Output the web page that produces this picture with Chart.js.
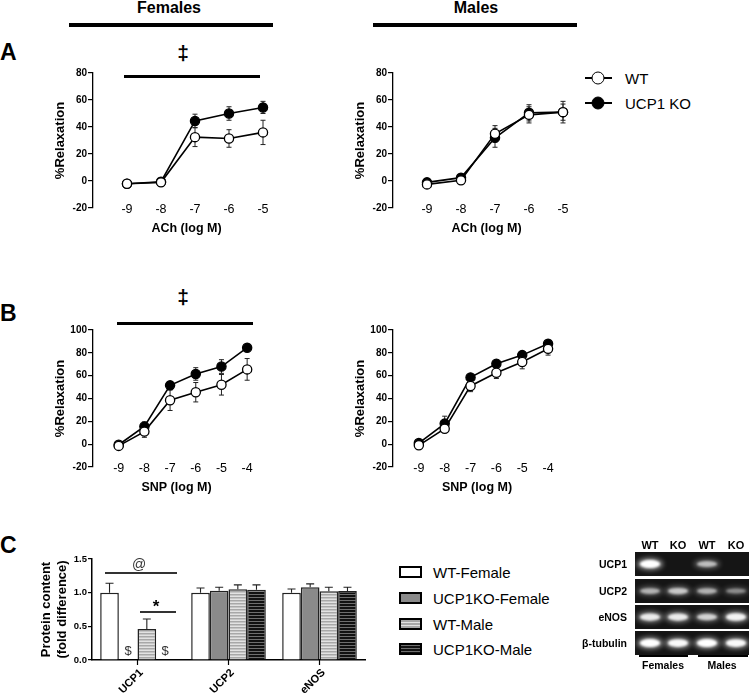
<!DOCTYPE html>
<html>
<head>
<meta charset="utf-8">
<script src="https://cdn.jsdelivr.net/npm/chart.js@4.4.1/dist/chart.umd.min.js"></script>
<style>
  body { margin: 0; background: #fff; font-family: "Liberation Sans", Arial, sans-serif; }
  #page { position: relative; width: 750px; height: 700px; overflow: hidden; }
  .box { position: absolute; }
  .t { position: absolute; white-space: nowrap; transform: translate(-50%, -50%); color: #000; line-height: 1; }
  .l { position: absolute; white-space: nowrap; transform: translateY(-50%); color: #000; line-height: 1; }
  .r { position: absolute; white-space: nowrap; transform: translate(-100%, -50%); color: #000; line-height: 1; }
  .rule { position: absolute; background: #000; }
  .b { font-weight: bold; }
  .mk { position: absolute; width: 11px; height: 11px; border: 1.5px solid #000; border-radius: 50%; transform: translate(-50%, -50%); }
  .sw { position: absolute; width: 19px; height: 8px; border: 2px solid #000; transform: translateY(-50%); }
</style>
</head>
<body>
<div id="page">
  <!-- headers -->
  <div class="t b" style="left:169px;top:8px;font-size:16px">Females</div>
  <div class="rule" style="left:69px;top:23px;width:204px;height:4px"></div>
  <div class="t b" style="left:476px;top:8px;font-size:16px">Males</div>
  <div class="rule" style="left:373px;top:23px;width:204px;height:4px"></div>

  <div class="l b" style="left:0px;top:52px;font-size:23px">A</div>
  <div class="t b" style="left:183px;top:52px;font-size:21px">‡</div>
  <div class="rule" style="left:124px;top:75px;width:136px;height:3px"></div>

  <div class="l b" style="left:0px;top:313px;font-size:23px">B</div>
  <div class="t b" style="left:183px;top:296px;font-size:21px">‡</div>
  <div class="rule" style="left:117px;top:322px;width:136px;height:3px"></div>

  <div class="l b" style="left:0px;top:545px;font-size:23px">C</div>

  <!-- line legend -->
  <div class="rule" style="left:585px;top:77px;width:27px;height:1.6px"></div>
  <div class="mk" style="left:598px;top:78px;background:#fff"></div>
  <div class="l" style="left:625px;top:78px;font-size:15px">WT</div>
  <div class="rule" style="left:585px;top:102px;width:27px;height:1.6px"></div>
  <div class="mk" style="left:598px;top:103px;background:#000"></div>
  <div class="l" style="left:625px;top:103px;font-size:15px">UCP1 KO</div>

  <div class="box" style="left:49px;top:63px"><canvas id="achF" width="237" height="176"></canvas></div>
  <div class="box" style="left:349px;top:63px"><canvas id="achM" width="237" height="176"></canvas></div>
  <div class="box" style="left:49px;top:320px"><canvas id="snpF" width="217" height="178"></canvas></div>
  <div class="box" style="left:349px;top:320px"><canvas id="snpM" width="218" height="178"></canvas></div>
  <div class="box" style="left:35px;top:549px"><canvas id="prot" width="335" height="151"></canvas></div>

  <!-- panel C annotations -->
  <div class="t" style="left:139px;top:564px;font-size:14px;color:#333">@</div>
  <div class="rule" style="left:105px;top:572px;width:72px;height:1.5px;background:#333"></div>
  <div class="t b" style="left:156px;top:606px;font-size:17px">*</div>
  <div class="rule" style="left:140px;top:611px;width:36px;height:1.5px;background:#333"></div>
  <div class="t" style="left:128px;top:650px;font-size:13px;color:#333">$</div>
  <div class="t" style="left:165px;top:650px;font-size:13px;color:#333">$</div>

  <!-- panel C legend -->
  <div id="legC"></div>

  <!-- blot -->
  <div class="box" style="left:630px;top:548px"><canvas id="blot" width="120" height="108"></canvas></div>
  <div id="blotText"></div>
</div>

<script>
// ACh / SNP dose-response (%Relaxation)
const achDoses = [-9, -8, -7, -6, -5];
const snpDoses = [-9, -8, -7, -6, -5, -4];

const achFemaleWT = [-2, -1, 32.5, 31.5, 36];
const achFemaleWTErr = [0, 0, 7, 6.5, 9];
const achFemaleKO = [-2, -0.5, 44.5, 50, 54.5];
const achFemaleKOErr = [0, 0, 5, 5, 4.5];

const achMaleWT = [-2.5, 0.5, 35, 49, 51];
const achMaleWTErr = [0, 0, 6, 6, 8];
const achMaleKO = [-1, 2.5, 32, 50.5, 51];
const achMaleKOErr = [0, 1, 7, 6, 6];

const snpFemaleWT = [-1.5, 11, 38.5, 45.5, 52, 65.5];
const snpFemaleWTErr = [0, 5, 9, 8.5, 9, 9.5];
const snpFemaleKO = [-0.5, 15.5, 51.5, 61.5, 68, 84.5];
const snpFemaleKOErr = [0, 4, 3, 5.5, 6, 2];

const snpMaleWT = [-1, 13.5, 51, 62.5, 72, 83.5];
const snpMaleWTErr = [0, 3, 5, 5, 6, 5.5];
const snpMaleKO = [1, 18, 58.5, 70.5, 78, 88];
const snpMaleKOErr = [0, 6.5, 2, 2, 3, 2];

// protein content (fold difference)
const proteins = ['UCP1', 'UCP2', 'eNOS'];
const groupNames = ['WT-Female', 'UCP1KO-Female', 'WT-Male', 'UCP1KO-Male'];
const wtFemale = [1.0, 1.0, 1.0];
const wtFemaleErr = [0.14, 0.07, 0.055];
const koFemale = [0, 1.03, 1.08];
const koFemaleErr = [0, 0.05, 0.05];
const wtMale = [0.46, 1.05, 1.02];
const wtMaleErr = [0.15, 0.065, 0.06];
const koMale = [0.01, 1.045, 1.025];
const koMaleErr = [0, 0.07, 0.055];

// blot band intensities (rows x lanes)
const blotRows = ['UCP1', 'UCP2', 'eNOS', 'β-tubulin'];
const blotLanes = ['WT', 'KO', 'WT', 'KO'];
const blotBands = [
  [1.0, 0, 0.6, 0],
  [0.55, 0.65, 0.55, 0.4],
  [0.85, 0.85, 0.7, 0.9],
  [1.0, 0.95, 1.0, 0.95]
];

const FONT = '"Liberation Sans", Arial, sans-serif';
Chart.defaults.font.family = FONT;
Chart.defaults.color = '#000';

// error bars drawn under the markers
const errorBars = {
  id: 'errorBars',
  beforeDatasetsDraw(chart) {
    const ctx = chart.ctx;
    const y = chart.scales.y;
    ctx.save();
    ctx.strokeStyle = '#222';
    ctx.lineWidth = 1;
    chart.data.datasets.forEach((ds, di) => {
      chart.getDatasetMeta(di).data.forEach((pt, i) => {
        const e = ds.errors[i];
        if (!e) return;
        const v = ds.data[i].y;
        const t = y.getPixelForValue(v + e), b = y.getPixelForValue(v - e);
        ctx.beginPath();
        ctx.moveTo(pt.x, t); ctx.lineTo(pt.x, b);
        ctx.moveTo(pt.x - 2.5, t); ctx.lineTo(pt.x + 2.5, t);
        ctx.moveTo(pt.x - 2.5, b); ctx.lineTo(pt.x + 2.5, b);
        ctx.stroke();
      });
    });
    ctx.restore();
  }
};

// dose labels sit level with the -20 tick (chart.js would clip them there)
const doseLabels = {
  id: 'doseLabels',
  afterDraw(chart) {
    const { ctx, chartArea, scales: { x } } = chart;
    ctx.save();
    ctx.font = '12.5px ' + FONT;
    ctx.fillStyle = '#000';
    ctx.textAlign = 'center';
    ctx.textBaseline = 'middle';
    x.ticks.forEach(t => ctx.fillText(String(t.value), x.getPixelForValue(t.value), chartArea.bottom + 2));
    ctx.restore();
  }
};

function doseChart(id, doses, wt, wtErr, ko, koErr, yMax, axisTitle) {
  const pts = arr => doses.map((d, i) => ({ x: d, y: arr[i] }));
  return new Chart(document.getElementById(id), {
    type: 'line',
    data: {
      datasets: [
        { label: 'WT', data: pts(wt), errors: wtErr, borderColor: '#000', pointBackgroundColor: '#fff' },
        { label: 'UCP1 KO', data: pts(ko), errors: koErr, borderColor: '#000', pointBackgroundColor: '#000' }
      ]
    },
    options: {
      responsive: false,
      animation: false,
      devicePixelRatio: 1,
      layout: { padding: { top: 10, right: 6, left: 0, bottom: 0 } },
      elements: {
        line: { borderWidth: 1.6, tension: 0 },
        point: { radius: 4.6, borderWidth: 1.3, pointBorderColor: '#000' }
      },
      datasets: { line: { clip: false } },
      plugins: { legend: { display: false }, tooltip: { enabled: false } },
      scales: {
        x: {
          type: 'linear',
          min: -10,
          max: doses[doses.length - 1] + 0.5,
          afterBuildTicks: s => { s.ticks = doses.map(v => ({ value: v })); },
          grid: { display: false, drawTicks: false },
          border: { display: false },
          ticks: { display: false },
          title: { display: true, text: axisTitle, font: { size: 12.5, weight: 'bold' }, padding: { top: 2, bottom: 3 } },
          afterFit: s => { s.height = 31; }
        },
        y: {
          min: -20,
          max: yMax,
          ticks: { stepSize: 20, padding: 1, font: { size: 10, weight: 'bold' } },
          grid: { drawOnChartArea: false, color: '#000', tickLength: 5, lineWidth: 1.2 },
          border: { color: '#000', width: 1.3 },
          title: { display: true, text: '%Relaxation', font: { size: 13, weight: 'bold' }, padding: { top: 4, bottom: 2 } },
          afterFit: s => { s.width = 44; }
        }
      }
    },
    plugins: [errorBars, doseLabels]
  });
}

doseChart('achF', achDoses, achFemaleWT, achFemaleWTErr, achFemaleKO, achFemaleKOErr, 80, 'ACh (log M)');
doseChart('achM', achDoses, achMaleWT, achMaleWTErr, achMaleKO, achMaleKOErr, 80, 'ACh (log M)');
doseChart('snpF', snpDoses, snpFemaleWT, snpFemaleWTErr, snpFemaleKO, snpFemaleKOErr, 100, 'SNP (log M)');
doseChart('snpM', snpDoses, snpMaleWT, snpMaleWTErr, snpMaleKO, snpMaleKOErr, 100, 'SNP (log M)');

// bar chart with patterned fills
const protCanvas = document.getElementById('prot');
const protCtx = protCanvas.getContext('2d');
function stripes(bg, fg, period, lineH) {
  const c = document.createElement('canvas');
  c.width = 4; c.height = period;
  const g = c.getContext('2d');
  g.fillStyle = bg; g.fillRect(0, 0, 4, period);
  g.fillStyle = fg; g.fillRect(0, 0, 4, lineH);
  return protCtx.createPattern(c, 'repeat');
}
const fills = ['#ffffff', '#8a8a8a', stripes('#e2e2e2', '#a8a8a8', 3, 1.5), stripes('#111111', '#6e6e6e', 3, 1)];
const cssFills = [
  '#fff', '#8a8a8a',
  'repeating-linear-gradient(#a8a8a8 0 1.5px, #e2e2e2 1.5px 3px)',
  'repeating-linear-gradient(#6e6e6e 0 1px, #111 1px 3px)'
];

const barErrors = {
  id: 'barErrors',
  afterDatasetsDraw(chart) {
    const ctx = chart.ctx;
    const y = chart.scales.y;
    ctx.save();
    ctx.strokeStyle = '#222';
    ctx.lineWidth = 1.1;
    chart.data.datasets.forEach((ds, di) => {
      chart.getDatasetMeta(di).data.forEach((bar, i) => {
        const e = ds.errors[i];
        if (!e) return;
        const top = y.getPixelForValue(ds.data[i] + e);
        const base = y.getPixelForValue(ds.data[i]);
        ctx.beginPath();
        ctx.moveTo(bar.x, base); ctx.lineTo(bar.x, top);
        ctx.moveTo(bar.x - 4, top); ctx.lineTo(bar.x + 4, top);
        ctx.stroke();
      });
    });
    ctx.restore();
  }
};

// tick marks and slanted protein names under the categories
const slantLabels = {
  id: 'slantLabels',
  afterDraw(chart) {
    const { ctx, chartArea, scales: { x } } = chart;
    ctx.save();
    ctx.strokeStyle = '#000';
    ctx.lineWidth = 1.2;
    ctx.font = 'bold 11px ' + FONT;
    ctx.fillStyle = '#000';
    ctx.textAlign = 'right';
    ctx.textBaseline = 'middle';
    chart.data.labels.forEach((lab, i) => {
      const px = x.getPixelForValue(i);
      ctx.beginPath();
      ctx.moveTo(px, chartArea.bottom);
      ctx.lineTo(px, chartArea.bottom + 5);
      ctx.stroke();
      ctx.save();
      ctx.translate(px + 4, chartArea.bottom + 11);
      ctx.rotate(-Math.PI / 4);
      ctx.fillText(lab, 0, 0);
      ctx.restore();
    });
    ctx.restore();
  }
};

const barSets = [
  [wtFemale, wtFemaleErr], [koFemale, koFemaleErr], [wtMale, wtMaleErr], [koMale, koMaleErr]
];
new Chart(protCanvas, {
  type: 'bar',
  data: {
    labels: proteins,
    datasets: barSets.map((s, k) => ({
      label: groupNames[k],
      data: s[0],
      errors: s[1],
      backgroundColor: fills[k],
      borderColor: '#222',
      borderWidth: 1.5,
      borderSkipped: 'bottom'
    }))
  },
  options: {
    responsive: false,
    animation: false,
    devicePixelRatio: 1,
    layout: { padding: { top: 10, right: 5, left: 0, bottom: 0 } },
    datasets: { bar: { categoryPercentage: 0.82, barPercentage: 1.0 } },
    plugins: { legend: { display: false }, tooltip: { enabled: false } },
    scales: {
      x: {
        grid: { display: false, drawTicks: false },
        border: { color: '#000', width: 1.5 },
        ticks: { display: false },
        afterFit: s => { s.height = 40; }
      },
      y: {
        min: 0,
        max: 1.5,
        ticks: { stepSize: 0.5, padding: 1, font: { size: 9.5, weight: 'bold' }, callback: v => v.toFixed(1) },
        grid: { drawOnChartArea: false, color: '#000', tickLength: 4, lineWidth: 1.2 },
        border: { color: '#000', width: 1.5 },
        title: { display: true, text: ['Protein content', '(fold difference)'], font: { size: 13, weight: 'bold' }, padding: { top: 4, bottom: 2 } },
        afterFit: s => { s.width = 57; }
      }
    }
  },
  plugins: [barErrors, slantLabels]
});

// legend for panel C
const legC = document.getElementById('legC');
const legY = [572, 598, 624, 649];
groupNames.forEach((name, k) => {
  legC.insertAdjacentHTML('beforeend',
    `<div class="sw" style="left:399px;top:${legY[k]}px;background:${cssFills[k]}"></div>` +
    `<div class="l" style="left:433px;top:${legY[k]}px;font-size:15px">${name}</div>`);
});

// blot
const blotTop = 548, blotLeft = 630;
const rowTops = [552, 579, 605, 631];
const rowH = 24;
const laneX = [650, 678, 707, 736];
const bctx = document.getElementById('blot').getContext('2d');
blotRows.forEach((r, ri) => {
  const y0 = rowTops[ri] - blotTop;
  bctx.fillStyle = '#151515';
  bctx.fillRect(635 - blotLeft, y0, 114, rowH);
  blotLanes.forEach((ln, li) => {
    const a = blotBands[ri][li];
    if (!a) return;
    const cx = laneX[li] - blotLeft, cy = y0 + rowH / 2;
    bctx.save();
    bctx.filter = 'blur(2.5px)';
    bctx.fillStyle = `rgba(255,255,255,${0.55 * a})`;
    bctx.beginPath(); bctx.ellipse(cx, cy, 13, 3 + 3 * a, 0, 0, Math.PI * 2); bctx.fill();
    bctx.filter = 'blur(1px)';
    bctx.fillStyle = `rgba(255,255,255,${a})`;
    bctx.beginPath(); bctx.ellipse(cx, cy, 10, 1.5 + 2.5 * a, 0, 0, Math.PI * 2); bctx.fill();
    bctx.restore();
  });
});
const bt = document.getElementById('blotText');
blotLanes.forEach((ln, li) => {
  bt.insertAdjacentHTML('beforeend', `<div class="t b" style="left:${laneX[li]}px;top:545px;font-size:11px">${ln}</div>`);
});
blotRows.forEach((r, ri) => {
  bt.insertAdjacentHTML('beforeend', `<div class="r b" style="left:627px;top:${rowTops[ri] + rowH / 2}px;font-size:10.5px">${r}</div>`);
});
bt.insertAdjacentHTML('beforeend',
  '<div class="rule" style="left:639px;top:655px;width:49px;height:1.5px"></div>' +
  '<div class="rule" style="left:698px;top:655px;width:50px;height:1.5px"></div>' +
  '<div class="t b" style="left:663px;top:665px;font-size:10.5px">Females</div>' +
  '<div class="t b" style="left:722px;top:665px;font-size:10.5px">Males</div>');
</script>
</body>
</html>
